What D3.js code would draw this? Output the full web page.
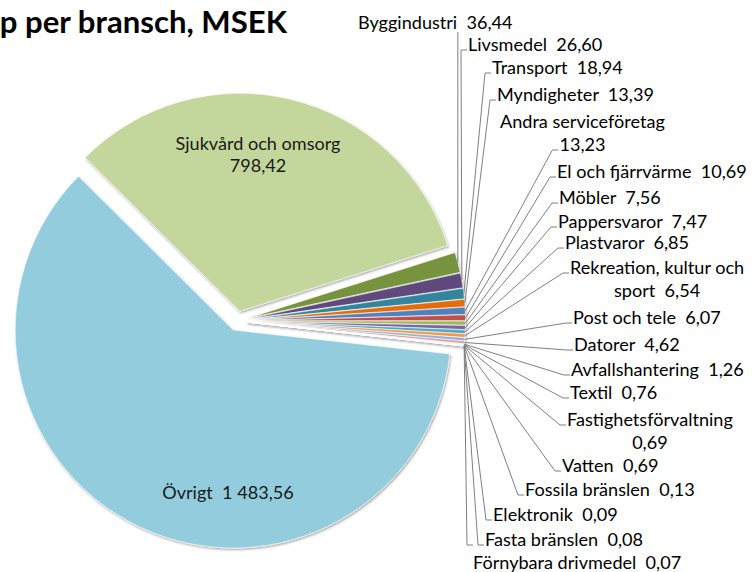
<!DOCTYPE html>
<html>
<head>
<meta charset="utf-8">
<script src="https://cdn.jsdelivr.net/npm/d3@7"></script>
<style>
  html, body { margin: 0; padding: 0; background: #fff; overflow: hidden; }
  svg { display: block; font-family: Lato, "Open Sans", sans-serif; }
  text { white-space: pre; }
</style>
</head>
<body>
<svg width="756" height="572"></svg>
<script>
var title = "Inköp per bransch, MSEK";

var categories = ["Övrigt", "Sjukvård och omsorg", "Byggindustri", "Livsmedel", "Transport",
    "Myndigheter", "Andra serviceföretag", "El och fjärrvärme", "Möbler", "Pappersvaror",
    "Plastvaror", "Rekreation, kultur och sport", "Post och tele", "Datorer", "Avfallshantering",
    "Textil", "Fastighetsförvaltning", "Vatten", "Fossila bränslen", "Elektronik",
    "Fasta bränslen", "Förnybara drivmedel"];
var values = [1483.56, 798.42, 36.44, 26.60, 18.94, 13.39, 13.23, 10.69, 7.56, 7.47,
    6.85, 6.54, 6.07, 4.62, 1.26, 0.76, 0.69, 0.69, 0.13, 0.09, 0.08, 0.07];
var colors = ["#93cddd", "#c3d69b", "#77933c", "#604a7b", "#31859c", "#e46c0a", "#4f81bd",
    "#c0504d", "#9bbb59", "#8064a2", "#4bacc6", "#f79646", "#95b3d7", "#d99694", "#c3d69b",
    "#b3a2c7", "#93cddd", "#fac090", "#376092", "#953735", "#77933c", "#604a7b"];

// words on the first line for labels that Excel wrapped (value counts as a word)
var wrapWords = {"Andra serviceföretag": 2, "Rekreation, kultur och sport": 3, "Fastighetsförvaltning": 1};

// outside label layout, for categories 2..21 (left x / centre y of first line)
var labelX = [358, 468, 492, 497, 500, 557, 559, 558, 565, 570, 573, 574, 571, 570, 567, 562, 525, 493, 485, 473];
var labelY = [23, 45, 68, 95, 122, 172, 198, 222, 243, 268, 318, 345, 370, 393, 420, 466, 490, 515, 540, 563];

var svg = d3.select("svg");
var fmt = d3.formatLocale({decimal: ",", thousands: " ", grouping: [3], currency: ["", ""]}).format(",.2f");

var cx = 237.5, cy = 321, radius = 218, explode = 10;
var start = 96.3 * Math.PI / 180;

function fitSize(sample, target, weight) {
    var t = svg.append("text").attr("font-size", 100).attr("font-weight", weight).text(sample);
    var w = t.node().getComputedTextLength();
    t.remove();
    return 100 * target / w;
}
var labelSize = fitSize("Andra serviceföretag", 165, "normal");
var titleSize = fitSize("per bransch, MSEK", 262, "bold");

var data = categories.map(function (c, i) {
    return {name: c, value: values[i], color: colors[i]};
});

var pie = d3.pie()
    .sort(null)
    .value(function (d) { return d.value; })
    .startAngle(start)
    .endAngle(start + 2 * Math.PI);
var arcs = pie(data);
var arc = d3.arc().innerRadius(0).outerRadius(radius);

function offset(d) {
    var mid = (d.startAngle + d.endAngle) / 2;
    return [cx + Math.sin(mid) * explode, cy - Math.cos(mid) * explode];
}

var defs = svg.append("defs");
var shadow = defs.append("filter").attr("id", "shadow")
    .attr("x", "-10%").attr("y", "-10%").attr("width", "120%").attr("height", "120%");
shadow.append("feDropShadow")
    .attr("dx", 1).attr("dy", 1.5).attr("stdDeviation", 1.2)
    .attr("flood-color", "#000").attr("flood-opacity", 0.35);

svg.append("g")
    .attr("filter", "url(#shadow)")
    .selectAll("path")
    .data(arcs)
    .enter()
    .append("path")
    .attr("transform", function (d) { return "translate(" + offset(d) + ")"; })
    .attr("d", arc)
    .attr("fill", function (d) { return d.data.color; })
    .attr("stroke", "#fff")
    .attr("stroke-width", 0.6);

// title, cut at the left edge like the original
svg.append("text")
    .attr("x", 287)
    .attr("y", 33)
    .attr("text-anchor", "end")
    .attr("font-size", titleSize)
    .attr("font-weight", "bold")
    .attr("fill", "#000")
    .text(title);

// labels inside the two big slices
function insideLabel(i, x, y, lines) {
    var t = svg.append("text")
        .attr("font-size", labelSize)
        .attr("fill", "#1a1a1a")
        .attr("text-anchor", "middle");
    lines.forEach(function (s, k) {
        t.append("tspan").attr("x", x).attr("y", y + k * 22).attr("dy", "0.35em").text(s);
    });
}
insideLabel(1, 258, 144, [categories[1], fmt(values[1])]);
insideLabel(0, 228, 493, [categories[0] + "  " + fmt(values[0])]);

// outside labels with leader lines for the small slices
var leaders = svg.append("g")
    .attr("fill", "none")
    .attr("stroke", "#7f7f7f")
    .attr("stroke-width", 1);

arcs.slice(2).forEach(function (d, j) {
    var words = d.data.name.split(" ").concat([fmt(d.data.value)]);
    var n = wrapWords[d.data.name] || words.length;
    var lines = [words.slice(0, n), words.slice(n)].filter(function (w) { return w.length; })
        .map(function (w) {
            return w.map(function (s, k) {
                return (k > 0 && k === w.length - 1 && n >= words.length - 0 ? "" : "") + s;
            });
        });
    // join words, two spaces before the value
    var texts = [];
    var idx = 0;
    lines.forEach(function (w) {
        var s = "";
        w.forEach(function (word, k) {
            var isValue = (idx === words.length - 1);
            if (k > 0) s += isValue ? "  " : " ";
            s += word;
            idx++;
        });
        texts.push(s);
    });

    var x0 = labelX[j], y0 = labelY[j];
    var t = svg.append("text")
        .attr("font-size", labelSize)
        .attr("fill", "#000");
    var first = t.append("tspan").attr("x", x0).attr("y", y0).attr("dy", "0.35em").text(texts[0]);
    var w0 = first.node().getComputedTextLength();
    var lineLeft = [x0];
    if (texts.length > 1) {
        var second = t.append("tspan").attr("y", y0 + 23).attr("dy", "0.35em").text(texts[1]);
        var w1 = second.node().getComputedTextLength();
        var x1 = x0 + (w0 - w1) / 2;
        second.attr("x", x1);
        lineLeft.push(x1);
    }

    var o = offset(d);
    var mid = (d.startAngle + d.endAngle) / 2;
    var p0 = [o[0] + Math.sin(mid) * radius, o[1] - Math.cos(mid) * radius];
    var pts;
    if (j === 0) {
        pts = [p0, [p0[0], y0 + 9]];
    } else if (j === arcs.length - 3) {
        pts = [p0, [x0 - 6, y0 - 18], [x0, y0 - 18]];
    } else {
        var li = d.data.name === "Andra serviceföretag" ? 1 : 0;
        var ly = y0 + li * 23 + 5;
        pts = [p0, [lineLeft[li] - 7, ly], [lineLeft[li] - 1, ly]];
    }
    leaders.append("path").attr("d", d3.line()(pts));
});
</script>
</body>
</html>
